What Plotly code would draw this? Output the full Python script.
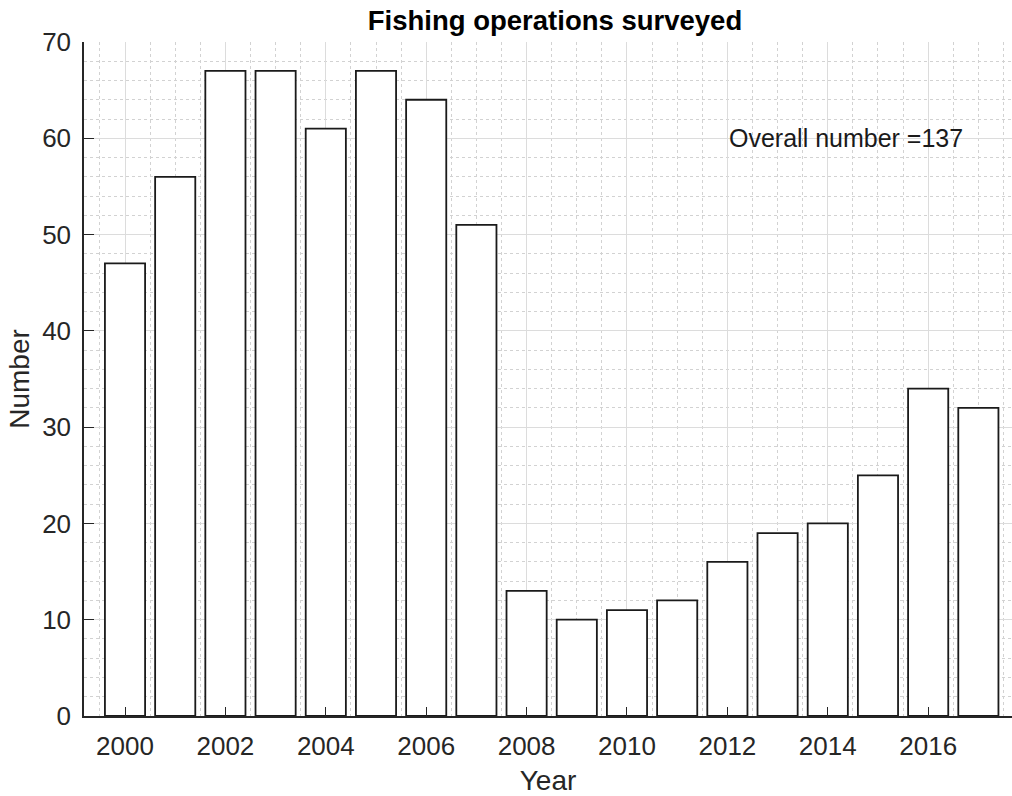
import plotly.graph_objects as go

# Survey counts per year
years = list(range(2000, 2018))
counts = [47, 56, 67, 67, 61, 67, 64, 51, 13, 10, 11, 12, 16, 19, 20, 25, 34, 32]
x_ticks = [2000, 2002, 2004, 2006, 2008, 2010, 2012, 2014, 2016]
y_ticks = [0, 10, 20, 30, 40, 50, 60, 70]
note_text = "Overall number =137"

FONT = "Liberation Sans, Arial, sans-serif"
AXIS_COLOR = "#262626"
TEXT_COLOR = "#262626"
GRID_COLOR = "#dcdcdc"
MINOR_GRID_COLOR = "#d2d2d2"

fig = go.Figure()
fig.add_trace(go.Bar(
    x=years,
    y=counts,
    width=0.8,
    marker=dict(color="white", line=dict(color="#1a1a1a", width=1.8)),
    showlegend=False,
))

fig.add_annotation(
    x=2014.37, y=60, xref="x", yref="y",
    text=note_text, showarrow=False,
    xanchor="center", yanchor="middle",
    font=dict(family=FONT, size=25, color="#1a1a1a"),
)

fig.update_layout(
    width=1012,
    height=796,
    margin=dict(l=84, r=0, t=42, b=80),
    paper_bgcolor="white",
    plot_bgcolor="white",
    bargap=0.2,
    title=dict(
        text="<b>Fishing operations surveyed</b>",
        x=555 / 1012, xanchor="center",
        y=1 - 20 / 796, yanchor="middle",
        font=dict(family=FONT, size=27.5, color="#000000"),
    ),
    xaxis=dict(
        range=[1999.183, 2017.67],
        tickvals=x_ticks,
        ticktext=[str(v) for v in x_ticks],
        ticks="inside", ticklen=9, tickwidth=1.3, tickcolor=AXIS_COLOR,
        ticklabelstandoff=6,
        showline=True, linecolor=AXIS_COLOR, linewidth=1.5,
        showgrid=True, gridcolor=GRID_COLOR, gridwidth=1,
        minor=dict(dtick=0.5, tick0=2000, showgrid=True,
                   gridcolor=MINOR_GRID_COLOR, griddash="3px,3px", gridwidth=1),
        zeroline=False,
        layer="above traces",
        tickfont=dict(family=FONT, size=26, color=TEXT_COLOR),
        title=dict(text="Year", font=dict(family=FONT, size=28, color=TEXT_COLOR), standoff=10),
    ),
    yaxis=dict(
        range=[0, 70],
        tickvals=y_ticks,
        ticks="inside", ticklen=10, tickwidth=1.3, tickcolor=AXIS_COLOR,
        ticklabelstandoff=6,
        showline=True, linecolor=AXIS_COLOR, linewidth=1.5,
        showgrid=True, gridcolor=GRID_COLOR, gridwidth=1,
        minor=dict(dtick=2, tick0=0, showgrid=True,
                   gridcolor=MINOR_GRID_COLOR, griddash="3px,3px", gridwidth=1),
        zeroline=False,
        layer="above traces",
        tickfont=dict(family=FONT, size=26, color=TEXT_COLOR),
        title=dict(text="Number", font=dict(family=FONT, size=28, color=TEXT_COLOR), standoff=4),
    ),
)

fig.write_html("out.html")
